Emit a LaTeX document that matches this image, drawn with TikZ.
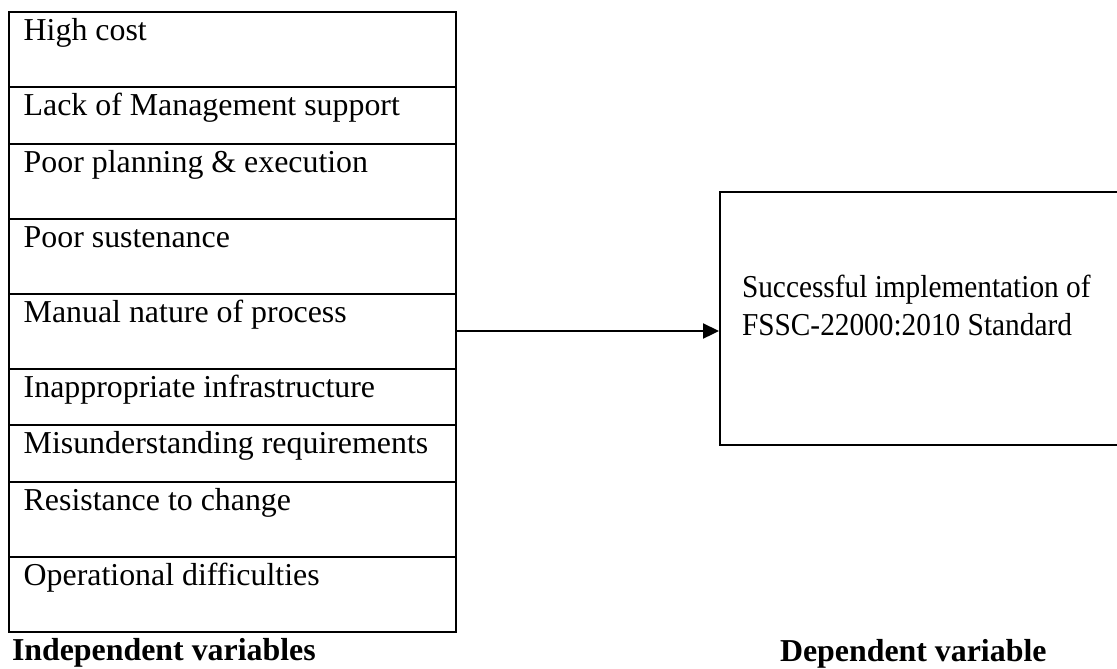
\documentclass[tikz,border=0pt]{standalone}
\usepackage{fontspec}
\setmainfont{Liberation Serif}
\newfontfamily\narrowserif[FakeStretch=0.92]{Liberation Serif}
\usetikzlibrary{positioning,arrows.meta,calc}

\begin{document}
\begin{tikzpicture}[x=0.4pt, y=-0.4pt, line width=0.8pt,
    every node/.style={font=\fontsize{12.75}{15.2}\selectfont},
    cell/.style={draw, minimum width=178.8pt, inner sep=0pt, anchor=north west},
    celltext/.style={anchor=base west, inner sep=0pt},
    varlabel/.style={anchor=base west, inner sep=0pt, font=\fontsize{12.75}{15.2}\selectfont\bfseries}]
  \useasboundingbox (0,0) rectangle (1117,668);

  % independent variables
  \foreach \i/\top/\h/\txt in {1/11/75/High cost,
      2/86/57/Lack of Management support,
      3/143/75/Poor planning \& execution,
      4/218/75/Poor sustenance,
      5/293/75/Manual nature of process,
      6/368/56/Inappropriate infrastructure,
      7/424/57/Misunderstanding requirements,
      8/481/75/Resistance to change,
      9/556/75/Operational difficulties} {
    \node[cell, minimum height=\h*0.4pt] (c\i) at (8,\top) {};
    \node[celltext] (t\i) at ($(c\i.north west)+(14.7,29.5)$) {\txt};
  }

  % dependent variable
  \node[draw, anchor=north west, inner sep=0pt,
        minimum width=162.4pt, minimum height=101.2pt] (dep) at (719,191) {};
  \node[anchor=north west, align=left, inner sep=0pt,
        font=\fontsize{12.75}{15.2}\selectfont\narrowserif] (deptxt) at (741,274)
    {Successful implementation of\\FSSC-22000:2010 Standard};

  \coordinate (arr) at (0,331);
  \draw[line width=0.9pt, -{Triangle[length=6.4pt,width=6pt]}] (c5.east |- arr) -- (dep.west |- arr);

  \node[varlabel] (indlabel) at (11,660) {Independent variables};
  \node[varlabel] (deplabel) at (779,661) {Dependent variable};
\end{tikzpicture}
\end{document}
